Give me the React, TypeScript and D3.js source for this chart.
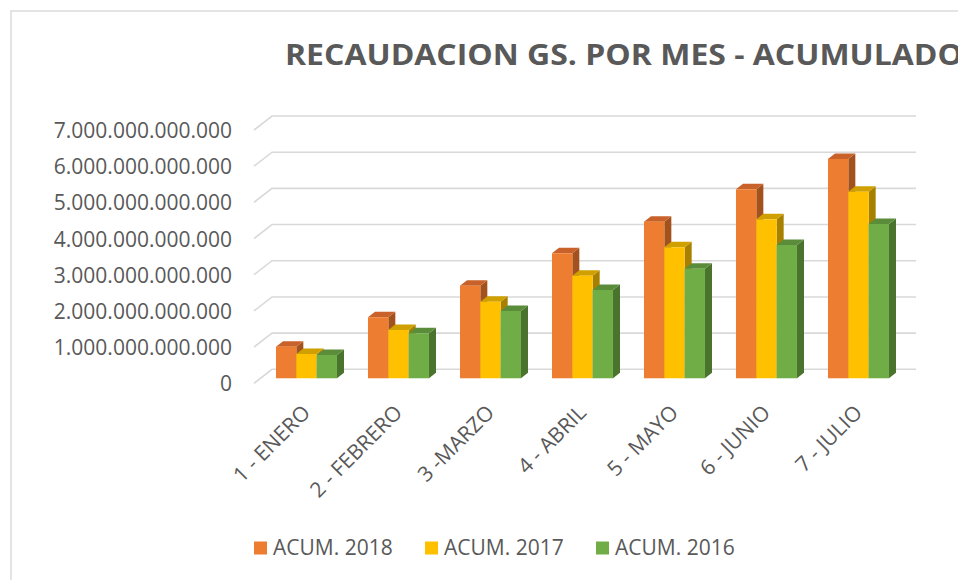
import { useEffect, useRef } from "react";
import * as d3 from "d3";

const categories = [
  "1 - ENERO",
  "2 - FEBRERO",
  "3 -MARZO",
  "4 - ABRIL",
  "5 - MAYO",
  "6 - JUNIO",
  "7 - JULIO",
];
const seriesNames = ["ACUM. 2018", "ACUM. 2017", "ACUM. 2016"];
const acum2018 = [873e9, 1686e9, 2559e9, 3454e9, 4327e9, 5222e9, 6060e9];
const acum2017 = [671e9, 1335e9, 2117e9, 2835e9, 3620e9, 4393e9, 5156e9];
const acum2016 = [644e9, 1243e9, 1860e9, 2440e9, 3028e9, 3683e9, 4264e9];
const yTicks = [0, 1e12, 2e12, 3e12, 4e12, 5e12, 6e12, 7e12];

const TITLE = "RECAUDACION GS. POR MES - ACUMULADO";
const FONT = "'Open Sans', 'Noto Sans', sans-serif";
const TEXT = "#595959";
const GRID = "#D9D9D9";

// front, top, side shades per series
const colors = [
  { front: "#ED7D31", top: "#C9622A", side: "#A3521E" },
  { front: "#FFC000", top: "#CFA000", side: "#A88000" },
  { front: "#70AD47", top: "#5A8C3A", side: "#4A742E" },
];

export default function App() {
  const ref = useRef<SVGSVGElement>(null);

  useEffect(() => {
    if (!ref.current) return;
    const svg = d3.select(ref.current);
    svg.selectAll("*").remove();

    const width = 958;
    const height = 580;
    svg.attr("width", width).attr("height", height);

    // 3D projection: depth d from 0 (back wall) to 1 (front edge)
    const depthX = -18;
    const depthY = 14;
    const proj = (x: number, y: number, d: number): [number, number] => [
      x + depthX * d,
      y + depthY * d,
    ];

    // chart area border
    svg
      .append("rect")
      .attr("x", 11)
      .attr("y", 11)
      .attr("width", 1000)
      .attr("height", 700)
      .attr("fill", "#fff")
      .attr("stroke", GRID)
      .attr("stroke-width", 1.4);

    // title
    svg
      .append("text")
      .attr("x", 285)
      .attr("y", 65)
      .attr("font-family", FONT)
      .attr("font-weight", "bold")
      .attr("font-size", 29)
      .attr("fill", TEXT)
      .attr("textLength", 678)
      .attr("lengthAdjust", "spacingAndGlyphs")
      .text(TITLE);

    const x = d3
      .scaleBand<string>()
      .domain(categories)
      .range([272, 916])
      .paddingInner(0.337)
      .paddingOuter(0.1685);

    const xs = d3.scaleBand<string>().domain(seriesNames).range([0, x.bandwidth()]);

    const y = d3.scaleLinear().domain([0, 7e12]).range([369.3, 116]);

    const fmt = d3.formatLocale({
      decimal: ",",
      thousands: ".",
      grouping: [3],
      currency: ["", ""],
    }).format(",.0f");

    // gridlines: side wall diagonal + back wall
    const grid = svg.append("g");
    yTicks.forEach((t) => {
      const [fx, fy] = proj(272, y(t), 1);
      grid
        .append("path")
        .attr("d", `M${fx},${fy}L272,${y(t)}L916,${y(t)}`)
        .attr("fill", "none")
        .attr("stroke", GRID)
        .attr("stroke-width", 1.6);
    });

    // y labels
    svg
      .append("g")
      .selectAll("text")
      .data(yTicks)
      .enter()
      .append("text")
      .attr("x", 232)
      .attr("y", (d) => proj(272, y(d), 1)[1] + 8)
      .attr("text-anchor", "end")
      .attr("font-family", FONT)
      .attr("font-size", 21)
      .attr("fill", TEXT)
      .text((d) => fmt(d));

    // bars
    const seriesData = [acum2018, acum2017, acum2016];
    const dFront = 0.64;
    const dBack = 0.25;
    const bars = svg.append("g");
    categories.forEach((cat, ci) => {
      seriesNames.forEach((s, si) => {
        const v = seriesData[si][ci];
        const x0 = x(cat)! + xs(s)!;
        const x1 = x0 + xs.bandwidth();
        const [fx0, fyb] = proj(x0, y(0), dFront);
        const [fx1, fyt] = proj(x1, y(v), dFront);
        const [bx0, byt] = proj(x0, y(v), dBack);
        const [bx1, byb] = proj(x1, y(0), dBack);
        const c = colors[si];
        // side
        bars
          .append("path")
          .attr("d", `M${fx1},${fyt}L${bx1},${byt}L${bx1},${byb}L${fx1},${fyb}Z`)
          .attr("fill", c.side);
        // top
        bars
          .append("path")
          .attr("d", `M${fx0},${fyt}L${bx0},${byt}L${bx1},${byt}L${fx1},${fyt}Z`)
          .attr("fill", c.top);
        // front
        bars
          .append("rect")
          .attr("x", fx0)
          .attr("y", fyt)
          .attr("width", fx1 - fx0)
          .attr("height", fyb - fyt)
          .attr("fill", c.front);
      });
    });

    // x labels
    svg
      .append("g")
      .selectAll("text")
      .data(categories)
      .enter()
      .append("text")
      .attr("transform", (d) => {
        const cx = proj(x(d)! + x.bandwidth() / 2, 0, dFront)[0] + 5;
        return `translate(${cx},414) rotate(-45)`;
      })
      .attr("text-anchor", "end")
      .attr("font-family", FONT)
      .attr("font-size", 21)
      .attr("fill", TEXT)
      .text((d) => d);

    // legend
    const legend = svg.append("g");
    seriesNames.forEach((s, i) => {
      const lx = 254 + i * 171;
      legend
        .append("rect")
        .attr("x", lx)
        .attr("y", 541.5)
        .attr("width", 13)
        .attr("height", 13)
        .attr("fill", colors[i].front);
      legend
        .append("text")
        .attr("x", lx + 19)
        .attr("y", 555)
        .attr("font-family", FONT)
        .attr("font-size", 21)
        .attr("fill", TEXT)
        .text(s);
    });
  }, []);

  return (
    <svg
      ref={ref}
      style={{ position: "absolute", left: 0, top: 0, display: "block" }}
    />
  );
}
